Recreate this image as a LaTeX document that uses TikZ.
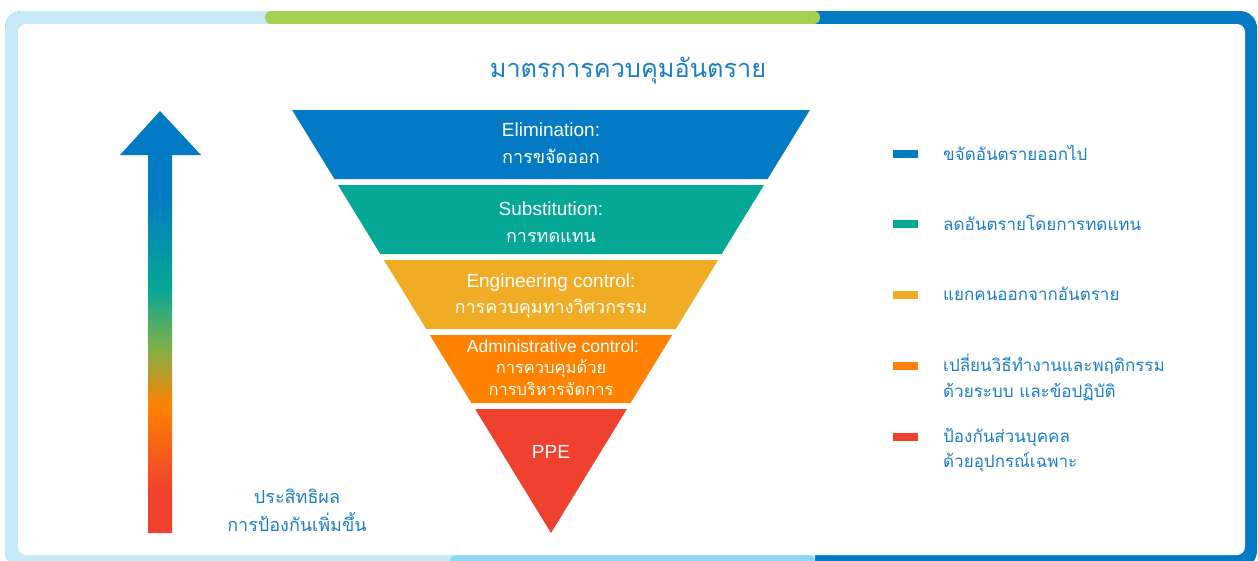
\documentclass[tikz,border=0pt]{standalone}
\usepackage{fontspec}
\setmainfont{Liberation Sans}
\newfontfamily\thai[Script=Thai]{Loma}
\definecolor{cblue}{HTML}{037BC4}
\definecolor{cteal}{HTML}{05A795}
\definecolor{cyellow}{HTML}{F0AC24}
\definecolor{corange}{HTML}{FF8200}
\definecolor{cred}{HTML}{F0402E}
\definecolor{colive}{HTML}{7FB04A}
\definecolor{lightblue}{HTML}{C8E9F8}
\definecolor{midblue}{HTML}{8FD7F2}
\definecolor{cgreen}{HTML}{A6D04F}
\definecolor{txtblue}{HTML}{1B7FC6}
\pgfdeclareverticalshading{arrowshade}{100bp}{color(0bp)=(cred); color(25bp)=(cred); color(30bp)=(cred); color(40bp)=(corange); color(47bp)=(colive); color(54bp)=(cteal); color(65bp)=(cblue); color(75bp)=(cblue); color(100bp)=(cblue)}
\tikzset{
  bandlat/.style={text=white, anchor=base, inner sep=0pt, font=\fontsize{19}{22}\selectfont},
  bandthai/.style={text=white, anchor=base, inner sep=0pt, font=\thai\fontsize{18}{20}\selectfont},
  legtxt/.style={text=txtblue, anchor=base west, inner sep=0pt, font=\thai\fontsize{17}{20}\selectfont},
  marker/.style={minimum width=25pt, minimum height=7.5pt, inner sep=0pt, outer sep=0pt},
}
\begin{document}
\begin{tikzpicture}[x=1pt,y=-1pt]
\useasboundingbox (0,0) rectangle (1258,560);
% frame
\begin{scope}
  \clip (0,0) rectangle (1258,560);
  \fill[cblue, rounded corners=17pt] (5,11) rectangle (1257,568);
  \begin{scope}
    \clip (0,0) rectangle (815,570);
    \fill[lightblue, rounded corners=17pt] (5,11) rectangle (1257,568);
  \end{scope}
  \fill[midblue, rounded corners=6pt] (450,555) rectangle (815,568);
  \fill[cgreen, rounded corners=6.5pt] (265,11) rectangle (820,24);
  \fill[white, rounded corners=8pt] (18,24) rectangle (1245,555);
\end{scope}
% title
\node[text=txtblue, anchor=base, inner sep=0pt, font=\thai\fontsize{25.3}{30}\selectfont] (title) at (628,77) {มาตรการควบคุมอันตราย};
% arrow
\shade[shading=arrowshade] (148,533) -- (148,155) -- (120,155) -- (160,111) -- (201,155) -- (172,155) -- (172,533) -- cycle;
\node[text=txtblue, anchor=base, inner sep=0pt, font=\thai\fontsize{18}{20}\selectfont] (eff1) at (297,503) {ประสิทธิผล};
\node[text=txtblue, anchor=base, inner sep=0pt, font=\thai\fontsize{18}{20}\selectfont] (eff2) at (297,531) {การป้องกันเพิ่มขึ้น};
% pyramid bands
\fill[cblue] (292.1,110) -- (809.9,110) -- (767.6,179) -- (334.4,179) -- cycle;
\fill[cteal] (338.0,185) -- (764.0,185) -- (721.7,254) -- (380.3,254) -- cycle;
\fill[cyellow] (383.9,260) -- (718.1,260) -- (675.8,329) -- (426.2,329) -- cycle;
\fill[corange] (429.8,335) -- (672.2,335) -- (630.6,403) -- (471.4,403) -- cycle;
\fill[cred] (475.1,409) -- (626.9,409) -- (551,533) -- cycle;
\node[bandlat] (b1a) at (551,136) {Elimination:};
\node[bandthai] (b1b) at (551,163) {การขจัดออก};
\node[bandlat] (b2a) at (551,215) {Substitution:};
\node[bandthai] (b2b) at (551,242) {การทดแทน};
\node[bandlat] (b3a) at (551,287) {Engineering control:};
\node[bandthai] (b3b) at (551,313) {การควบคุมทางวิศวกรรม};
\node[bandlat, font=\fontsize{17.5}{20}\selectfont] (b4a) at (553,352) {Administrative control:};
\node[bandthai, font=\thai\fontsize{16.5}{18}\selectfont] (b4b) at (551,373) {การควบคุมด้วย};
\node[bandthai, font=\thai\fontsize{16.5}{18}\selectfont] (b4c) at (551,395) {การบริหารจัดการ};
\node[bandlat] (b5a) at (551,458) {PPE};
% legend
\node[marker, fill=cblue] (m1) at (905.5,154) {};
\node[marker, fill=cteal] (m2) at (905.5,224) {};
\node[marker, fill=cyellow] (m3) at (905.5,295) {};
\node[marker, fill=corange] (m4) at (905.5,366) {};
\node[marker, fill=cred] (m5) at (905.5,437) {};
\node[legtxt] (l1) at (943,160) {ขจัดอันตรายออกไป};
\node[legtxt] (l2) at (943,230) {ลดอันตรายโดยการทดแทน};
\node[legtxt] (l3) at (943,300) {แยกคนออกจากอันตราย};
\node[legtxt] (l4a) at (943,371) {เปลี่ยนวิธีทำงานและพฤติกรรม};
\node[legtxt] (l4b) at (943,397) {ด้วยระบบ และข้อปฏิบัติ};
\node[legtxt] (l5a) at (943,442) {ป้องกันส่วนบุคคล};
\node[legtxt] (l5b) at (943,467) {ด้วยอุปกรณ์เฉพาะ};
\end{tikzpicture}
\end{document}
